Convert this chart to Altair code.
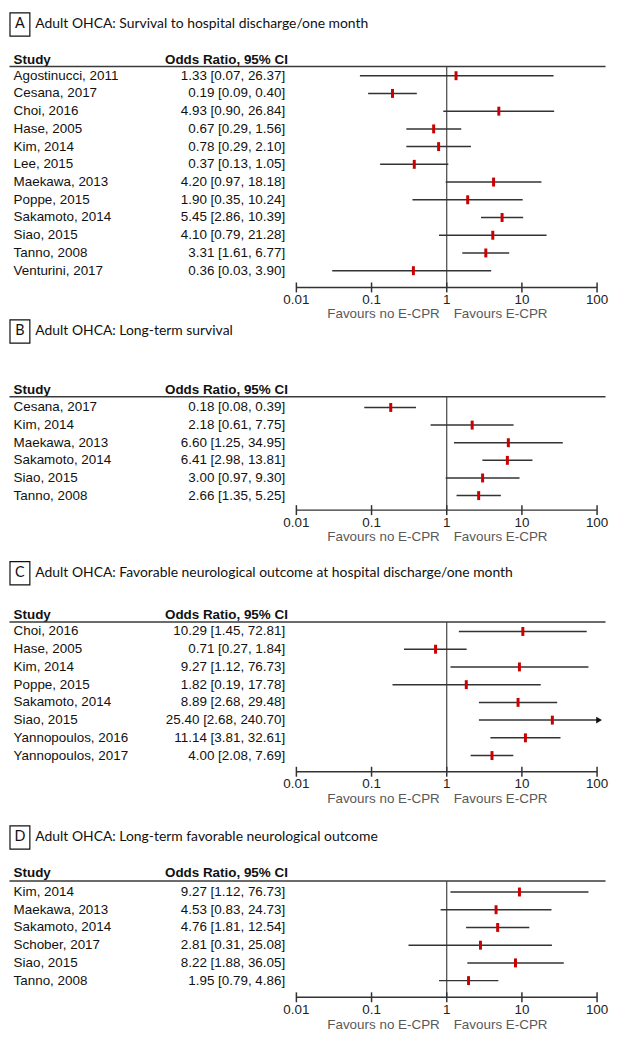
import altair as alt
import pandas as pd

LETTERS = ["A", "B", "C", "D"]
TITLES = [
    "Adult OHCA: Survival to hospital discharge/one month",
    "Adult OHCA: Long-term survival",
    "Adult OHCA: Favorable neurological outcome at hospital discharge/one month",
    "Adult OHCA: Long-term favorable neurological outcome",
]

A_study = ["Agostinucci, 2011", "Cesana, 2017", "Choi, 2016", "Hase, 2005", "Kim, 2014", "Lee, 2015",
           "Maekawa, 2013", "Poppe, 2015", "Sakamoto, 2014", "Siao, 2015", "Tanno, 2008", "Venturini, 2017"]
A_or = [1.33, 0.19, 4.93, 0.67, 0.78, 0.37, 4.20, 1.90, 5.45, 4.10, 3.31, 0.36]
A_lo = [0.07, 0.09, 0.90, 0.29, 0.29, 0.13, 0.97, 0.35, 2.86, 0.79, 1.61, 0.03]
A_hi = [26.37, 0.40, 26.84, 1.56, 2.10, 1.05, 18.18, 10.24, 10.39, 21.28, 6.77, 3.90]

B_study = ["Cesana, 2017", "Kim, 2014", "Maekawa, 2013", "Sakamoto, 2014", "Siao, 2015", "Tanno, 2008"]
B_or = [0.18, 2.18, 6.60, 6.41, 3.00, 2.66]
B_lo = [0.08, 0.61, 1.25, 2.98, 0.97, 1.35]
B_hi = [0.39, 7.75, 34.95, 13.81, 9.30, 5.25]

C_study = ["Choi, 2016", "Hase, 2005", "Kim, 2014", "Poppe, 2015", "Sakamoto, 2014", "Siao, 2015",
           "Yannopoulos, 2016", "Yannopoulos, 2017"]
C_or = [10.29, 0.71, 9.27, 1.82, 8.89, 25.40, 11.14, 4.00]
C_lo = [1.45, 0.27, 1.12, 0.19, 2.68, 2.68, 3.81, 2.08]
C_hi = [72.81, 1.84, 76.73, 17.78, 29.48, 240.70, 32.61, 7.69]

D_study = ["Kim, 2014", "Maekawa, 2013", "Sakamoto, 2014", "Schober, 2017", "Siao, 2015", "Tanno, 2008"]
D_or = [9.27, 4.53, 4.76, 2.81, 8.22, 1.95]
D_lo = [1.12, 0.83, 1.81, 0.31, 1.88, 0.79]
D_hi = [76.73, 24.73, 12.54, 25.08, 36.05, 4.86]

TICK_VALUES = [0.01, 0.1, 1, 10, 100]
TICK_LABELS = ["0.01", "0.1", "1", "10", "100"]
NULL_VALUE = 1
HEAD_STUDY = "Study"
HEAD_OR = "Odds Ratio, 95% CI"
FAV_NO = "Favours no E-CPR"
FAV_YES = "Favours E-CPR"

STUDIES = [A_study, B_study, C_study, D_study]
ORS = [A_or, B_or, C_or, D_or]
LOS = [A_lo, B_lo, C_lo, D_lo]
HIS = [A_hi, B_hi, C_hi, D_hi]

# layout (reference pixel positions), scaled by K into the chart
K = 0.975
W = 601
XR = [289.3, 592.0]
LAYOUT = [
    dict(top=0, bottom=316, box=(1.5, 25.5), title=13.5, header=50, line=57, row0=66.4, dy=18.3, axis=285, labels=298, fav=312),
    dict(top=316, bottom=560, box=(317.5, 341.5), title=329.5, header=390, line=397, row0=408, dy=18.2, axis=514, labels=527, fav=542),
    dict(top=560, bottom=834, box=(567, 591), title=579, header=622, line=629.5, row0=639.2, dy=18.3, axis=784, labels=797, fav=812),
    dict(top=834, bottom=1048, box=(839, 863), title=851, header=888, line=896, row0=907.3, dy=18.3, axis=1016, labels=1029, fav=1045),
]

TABLE_FONT = "Liberation Sans"
TITLE_FONT = "Lato"
FS = 13.5


def panel(i):
    L = LAYOUT[i]
    top, bottom, dy = L["top"], L["bottom"], L["dy"]
    H = (bottom - top) * K

    def py(v):
        return (v - top) * K

    r_top = -(L["row0"] - top) / dy
    r_bot = r_top + (bottom - top) / dy
    ysc = alt.Scale(domain=[r_top, r_bot], range=[0, H], nice=False, zero=False)
    xsc = alt.Scale(type="log", domain=[0.01, 100], range=XR, nice=False)

    def X(f):
        return alt.X(f, scale=xsc, axis=None)

    df = pd.DataFrame({"study": STUDIES[i], "or": ORS[i], "lo": LOS[i], "hi": HIS[i]})
    df["row"] = list(range(len(df)))
    df["label"] = [f"{o:.2f} [{l:.2f}, {h:.2f}]" for o, l, h in zip(df["or"], df["lo"], df["hi"])]
    df["hi_c"] = [min(h, TICK_VALUES[-1]) for h in df["hi"]]
    df["over"] = [1 if h > TICK_VALUES[-1] else 0 for h in df["hi"]]

    Y = alt.Y("row:Q", scale=ysc, axis=None)
    base = alt.Chart(df)
    one = alt.Chart(pd.DataFrame({"letter": [LETTERS[i]], "title": [TITLES[i]], "h1": [HEAD_STUDY],
                                  "h2": [HEAD_OR], "f1": [FAV_NO], "f2": [FAV_YES],
                                  "nul": [NULL_VALUE], "amin": [TICK_VALUES[0]], "amax": [TICK_VALUES[-1]]}))
    tdf = alt.Chart(pd.DataFrame({"v": TICK_VALUES, "lab": TICK_LABELS}))
    b0, b1 = L["box"]

    layers = [
        one.mark_rect(fill="white", fillOpacity=0, stroke="#111", strokeWidth=1.2).encode(
            x=alt.value(1), x2=alt.value(21), y=alt.value(py(b0)), y2=alt.value(py(b1))),
        one.mark_text(font=TITLE_FONT, fontSize=14.5, align="center", baseline="middle", color="#111").encode(
            x=alt.value(11), y=alt.value(py((b0 + b1) / 2)), text="letter:N"),
        one.mark_text(font=TITLE_FONT, fontSize=14, align="left", baseline="middle", color="#111").encode(
            x=alt.value(26.5), y=alt.value(py(L["title"])), text="title:N"),
        one.mark_text(font=TABLE_FONT, fontSize=FS, fontWeight="bold", align="left", baseline="middle", color="#111").encode(
            x=alt.value(4.6), y=alt.value(py(L["header"])), text="h1:N"),
        one.mark_text(font=TABLE_FONT, fontSize=FS, fontWeight="bold", align="left", baseline="middle", color="#111").encode(
            x=alt.value(157), y=alt.value(py(L["header"])), text="h2:N"),
        one.mark_rule(color="#3a3a3a", strokeWidth=1.5).encode(
            x=alt.value(0.5), x2=alt.value(600.5), y=alt.value(py(L["line"]))),
        one.mark_rule(color="#444", strokeWidth=1.2).encode(
            x=X("nul:Q"), y=alt.value(py(L["line"])), y2=alt.value(py(L["axis"]))),
        base.mark_rule(color="#333", strokeWidth=1.5).encode(
            x=X("lo:Q"), x2="hi_c:Q", y=Y),
        base.transform_filter("datum.over == 1").mark_point(shape="triangle-right", filled=True, size=45, xOffset=2,
                                                             color="#111", opacity=1).encode(
            x=X("hi_c:Q"), y=Y),
        base.mark_tick(orient="vertical", size=9, thickness=3, color="#cc0000", opacity=1).encode(
            x=X("or:Q"), y=Y),
        base.mark_text(font=TABLE_FONT, fontSize=FS, align="left", baseline="middle", color="#111").encode(
            x=alt.value(4.6), y=Y, text="study:N"),
        base.mark_text(font=TABLE_FONT, fontSize=FS, align="right", baseline="middle", color="#111").encode(
            x=alt.value(278), y=Y, text="label:N"),
        one.mark_rule(color="#333", strokeWidth=1.5).encode(
            x=X("amin:Q"), x2="amax:Q", y=alt.value(py(L["axis"]))),
        tdf.mark_rule(color="#333", strokeWidth=1.5).encode(
            x=X("v:Q"), y=alt.value(py(L["axis"]) - 5), y2=alt.value(py(L["axis"]) + 5)),
        tdf.mark_text(font=TABLE_FONT, fontSize=FS, baseline="middle", color="#222").encode(
            x=X("v:Q"), y=alt.value(py(L["labels"])), text="lab:N"),
        one.mark_text(font=TABLE_FONT, fontSize=FS, align="right", dx=-7, baseline="middle", color="#595959").encode(
            x=X("nul:Q"), y=alt.value(py(L["fav"])), text="f1:N"),
        one.mark_text(font=TABLE_FONT, fontSize=FS, align="left", dx=7, baseline="middle", color="#595959").encode(
            x=X("nul:Q"), y=alt.value(py(L["fav"])), text="f2:N"),
    ]
    return alt.layer(*layers).properties(width=W, height=H)


chart = alt.vconcat(*[panel(i) for i in range(4)], spacing=0, bounds="flush").properties(
    padding=0).configure_view(stroke=None)

chart.save("out.html", embed_options={"renderer": "svg", "actions": False})
